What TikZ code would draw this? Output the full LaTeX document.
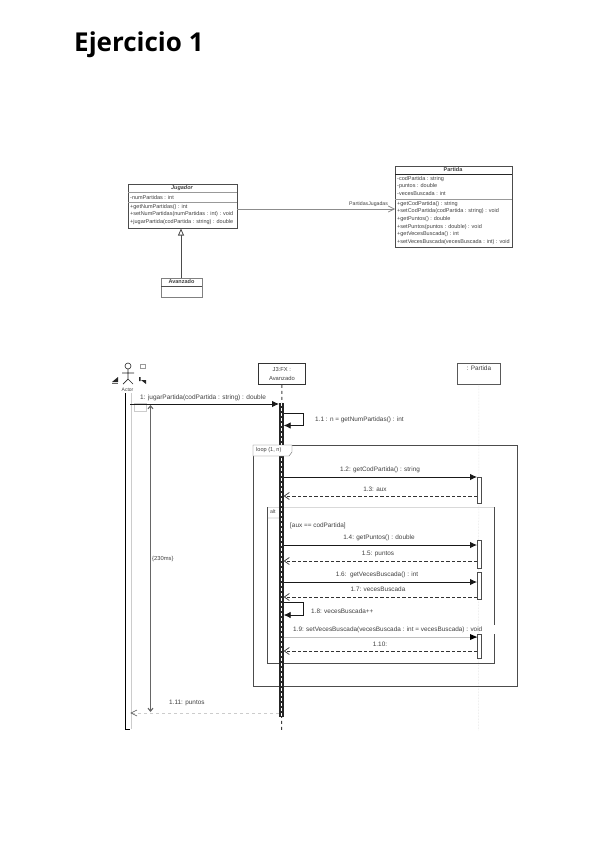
\documentclass[tikz,border=0pt]{standalone}
\usepackage{fontspec}
\setmainfont{Liberation Sans}
\newfontfamily\titlefont{Open Sans}
\usetikzlibrary{arrows.meta}
\definecolor{inkgray}{gray}{0.25}
\tikzset{
  txt/.style={inner sep=0pt,text=inkgray,font=\fontsize{6.4}{7}\selectfont},
  classtxt/.style={txt,anchor=west,font=\fontsize{5.5}{6}\selectfont},
  classbox/.style={draw=black!70,line width=0.8pt,fill=white,inner sep=0pt,anchor=north west},
  lifebox/.style={draw=black!80,line width=0.8pt,fill=white,inner sep=0pt,anchor=north west},
  call/.style={draw=black!90,line width=0.8pt,-{Latex[length=7pt,width=6.5pt]}},
  back/.style={draw=black!80,line width=0.7pt,dash pattern=on 3.5pt off 2pt,-{Straight Barb[length=5pt,width=7pt]}},
  frameline/.style={draw=black!70,line width=0.7pt},
  execbox/.style={draw=black!70,line width=0.6pt,fill=white,inner sep=0pt,minimum width=4pt,anchor=north west}
}
\begin{document}
\begin{tikzpicture}[x=1pt,y=-1pt]
    \useasboundingbox (0,0) rectangle (599,848);
    \node[anchor=west,inner sep=0pt,font=\titlefont\bfseries\fontsize{26}{28}\selectfont] (title) at (74,45) {Ejercicio 1};

    % class diagram
    \node[classbox,minimum width=109pt,minimum height=44pt] (jugador) at (128,184) {};
    \draw[black!40,line width=0.4pt] (128,192) -- (237,192);
    \draw[black!40,line width=0.4pt] (128,202) -- (237,202);
    \node[txt,font=\fontsize{5.5}{6}\itshape\bfseries\selectfont] (jugadorname) at (182,188) {Jugador};
    \node[classtxt] (j1) at (130,197.500) {-numPartidas : int};
    \node[classtxt] (j2) at (130,207) {+getNumPartidas() : int};
    \node[classtxt] (j3) at (130,214.500) {+setNumPartidas(numPartidas : int) : void};
    \node[classtxt] (j4) at (130,222) {+jugarPartida(codPartida : string) : double};

    \node[classbox,draw=black!50,minimum width=41pt,minimum height=19pt] (avanzado) at (161,278) {};
    \draw[black!70,line width=0.5pt] (161,286) -- (202,286);
    \node[txt,font=\fontsize{5.5}{6}\bfseries\selectfont] (avanzadoname) at (181.500,282) {Avanzado};
    \draw[black!70,line width=0.8pt,-{Triangle[open,fill=white,length=7pt,width=6pt]}] (avanzado.north -| 181,0) -- (181,228.500);

    \node[classbox,minimum width=117pt,minimum height=81pt] (partida) at (395,166) {};
    \draw[black!85,line width=0.5pt] (395,174) -- (512,174);
    \draw[black!40,line width=0.4pt] (395,199) -- (512,199);
    \node[txt,font=\fontsize{5.5}{6}\bfseries\selectfont] (partidaname) at (453,170) {Partida};
    \node[classtxt] (p1) at (397,179) {-codPartida : string};
    \node[classtxt] (p2) at (397,186.500) {-puntos : double};
    \node[classtxt] (p3) at (397,194) {-vecesBuscada : int};
    \node[classtxt] (p4) at (397,204) {+getCodPartida() : string};
    \node[classtxt] (p5) at (397,211) {+setCodPartida(codPartida : string) : void};
    \node[classtxt] (p6) at (397,219) {+getPuntos() : double};
    \node[classtxt] (p7) at (397,227) {+setPuntos(puntos : double) : void};
    \node[classtxt] (p8) at (397,234.500) {+getVecesBuscada() : int};
    \node[classtxt] (p9) at (397,242) {+setVecesBuscada(vecesBuscada : int) : void};

    \coordinate (assocstart) at (237,209);
    \coordinate (assocend) at (395,209);
    \draw[black!45,line width=0.7pt,-{Straight Barb[length=6pt,width=6pt]}] (assocstart) -- (assocend);
    \node[txt,anchor=west,font=\fontsize{5.2}{6}\selectfont] (assoclabel) at (349,204.500) {PartidasJugadas};

    % actor
    \draw[black!85,line width=0.6pt] (128,366) circle (3pt);
    \draw[black!85,line width=0.7pt] (128,369) -- (128,379) (122,373) -- (134,373) (123,384) -- (128,379) -- (133,384);
    \node[txt,font=\fontsize{5}{6}\selectfont] (actorname) at (127.500,389.500) {Actor};
    \draw[black!40,line width=0.5pt] (140,364) rectangle (145,368);
    \fill[black!85] (112,382) -- (118,377) -- (118,382) -- cycle;
    \draw[black!60,line width=0.4pt] (112,383) -- (118,383);
    \fill[black!85] (139,377) rectangle (140.500,381) (141,380) -- (146,380) -- (146,384) -- cycle;

    % lifelines
    \coordinate (actortop) at (125.500,393);
    \coordinate (actorbot) at (125.500,729);
    \coordinate (actorstub) at (130,729);
    \draw[black,line width=0.7pt] (actortop) -- (actorbot) -- (actorstub);
    \draw[black!20,line width=0.5pt] (131,393) -- (131,729);

    \node[lifebox,minimum width=47pt,minimum height=21pt] (jbox) at (258,363) {};
    \node[txt,align=center,font=\fontsize{5.8}{9}\selectfont] (jname) at (jbox.center) {J3:FX :\\Avanzado};
    \coordinate (jend) at (281.500,730);
    \draw[black!75,line width=1pt,dashed] (jbox.south) -- (jend);

    \node[lifebox,draw=black!65,minimum width=43pt,minimum height=21pt] (pbox) at (457,363) {};
    \node[txt,anchor=north,yshift=-3pt] (pname) at (pbox.north) {: Partida};
    \coordinate (pend) at (478.500,730);
    \draw[black!15,line width=0.5pt,densely dotted] (pbox.south) -- (pend);

    % frames
    \draw[frameline] (253,445) rectangle (517,686);
    \draw[black!15,line width=0.6pt] (267,507) -- (494,507);
    \draw[frameline] (494,507) -- (494,625) (494,634) -- (494,663) -- (267,663) -- (267,507);
    \draw[black!60,line width=0.4pt] (282,512) -- (280,518) -- (267,518);
    \node[txt,anchor=west] (guard) at (290,526) {[aux == codPartida]};

    % duration
    \coordinate (durtop) at (150.500,405);
    \coordinate (durbot) at (150.500,712);
    \draw[black!60,line width=1.1pt,{Straight Barb[length=3pt,width=5pt]}-{Straight Barb[length=3pt,width=5pt]}] (durtop) -- (durbot);
    \node[fill=white,draw=black!20,line width=0.4pt,inner sep=0pt,minimum width=12pt,minimum height=8pt] (durtab) at (140,407) {};
    \node[txt,anchor=west,fill=white,inner ysep=1pt,font=\fontsize{5.8}{6}\selectfont] (durlabel) at (152,559) {\{230ms\}};

    % execution bars
    \node[fill=black!85,inner sep=0pt,minimum width=4.500pt,minimum height=314pt,anchor=north west] (jbar) at (279,403) {};
    \draw[white,line width=1.2pt,dash pattern=on 2.5pt off 2.5pt] (jbar.north) -- (jbar.south);
    \draw[fill=white,draw=black!60,line width=0.4pt] (253,445) -- (292,445) -- (292,452) -- (289,456) -- (253,456) -- cycle;
    \node[txt,anchor=west,font=\fontsize{5.6}{6}\selectfont] (looplabel) at (256,450.500) {loop (1, n)};
    \node[txt,anchor=west,font=\fontsize{5.2}{6}\selectfont] (altlabel) at (270,512) {alt};
    \node[execbox,minimum height=26pt] (pbar1) at (477,477) {};
    \node[execbox,minimum height=28pt] (pbar2) at (477,540) {};
    \node[execbox,minimum height=27pt] (pbar3) at (477,572) {};
    \node[execbox,minimum height=24pt] (pbar4) at (477,634) {};

    % messages
    \coordinate (m1s) at (130,404);
    \draw[call] (m1s) -- (jbar.north west |- m1s);
    \node[txt,anchor=west,font=\fontsize{6.5}{7}\selectfont] (m1) at (140,398) {1: jugarPartida(codPartida : string) : double};

    \coordinate (s1a) at (283.700,413);
    \coordinate (s1b) at (303,413);
    \coordinate (s1c) at (303,425.500);
    \coordinate (s1d) at (283.700,425.500);
    \draw[call] (s1a) -- (s1b) -- (s1c) -- (s1d);
    \node[txt,anchor=west] (m11) at (315,420) {1.1 : n = getNumPartidas() : int};

    \coordinate (m12s) at (283.700,477);
    \coordinate (m12e) at (477,477);
    \draw[call] (m12s) -- (m12e);
    \node[txt] (m12) at (380,470) {1.2: getCodPartida() : string};
    \coordinate (m13s) at (477,496);
    \coordinate (m13e) at (283.700,496);
    \draw[back] (m13s) -- (m13e);
    \node[txt] (m13) at (375,489) {1.3: aux};

    \coordinate (m14s) at (283.700,545);
    \coordinate (m14e) at (477,545);
    \draw[call] (m14s) -- (m14e);
    \node[txt] (m14) at (379,538) {1.4: getPuntos() : double};
    \coordinate (m15s) at (477,561);
    \coordinate (m15e) at (283.700,561);
    \draw[back] (m15s) -- (m15e);
    \node[txt] (m15) at (378,554) {1.5: puntos};

    \coordinate (m16s) at (283.700,582);
    \coordinate (m16e) at (477,582);
    \draw[call] (m16s) -- (m16e);
    \node[txt] (m16) at (377,575) {1.6:\ \ getVecesBuscada() : int};
    \coordinate (m17s) at (477,597);
    \coordinate (m17e) at (283.700,597);
    \draw[back] (m17s) -- (m17e);
    \node[txt] (m17) at (378,589.500) {1.7: vecesBuscada};

    \coordinate (s8a) at (283.700,602);
    \coordinate (s8b) at (303,602);
    \coordinate (s8c) at (303,615);
    \coordinate (s8d) at (283.700,615);
    \draw[call] (s8a) -- (s8b) -- (s8c) -- (s8d);
    \node[txt,anchor=west] (m18) at (311,611) {1.8: vecesBuscada++};

    \coordinate (m19s) at (283.700,637);
    \coordinate (m19e) at (477,637);
    \draw[draw=black!25,line width=0.8pt] (m19s) -- (m19e);
    \fill[black] (470,634) -- (477,637) -- (470,640) -- cycle;
    \node[txt,anchor=west] (m19) at (293,630) {1.9: setVecesBuscada(vecesBuscada : int = vecesBuscada) : void};
    \coordinate (m110s) at (477,651);
    \coordinate (m110e) at (283.700,651);
    \draw[back] (m110s) -- (m110e);
    \node[txt] (m110) at (380,644) {1.10:};

    \coordinate (m111s) at (279,713);
    \coordinate (m111e) at (131,713);
    \draw[black!20,line width=0.5pt,dashed] (m111s) -- (m111e);
    \draw[black!70,line width=0.6pt] (137,710) -- (131,713) -- (137,716);
    \node[txt,anchor=west] (m111) at (169,703) {1.11: puntos};
\end{tikzpicture}
\end{document}
